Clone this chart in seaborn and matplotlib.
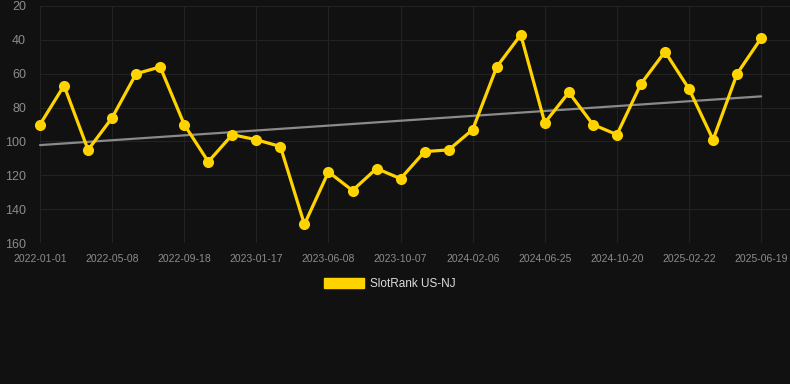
import numpy as np
import pandas as pd
import matplotlib.pyplot as plt
import seaborn as sns
from matplotlib.patches import Patch

# dates on the category axis (every 3rd one is labelled)
dates = ["2022-01-01", "2022-02-12", "2022-03-26", "2022-05-08", "2022-06-21",
         "2022-08-04", "2022-09-18", "2022-10-29", "2022-12-08", "2023-01-17",
         "2023-03-01", "2023-04-24", "2023-06-08", "2023-07-21", "2023-08-29",
         "2023-10-07", "2023-11-19", "2023-12-28", "2024-02-06", "2024-03-19",
         "2024-05-06", "2024-06-25", "2024-08-08", "2024-09-14", "2024-10-20",
         "2024-12-03", "2025-01-12", "2025-02-22", "2025-04-04", "2025-05-12",
         "2025-06-19"]
rank = [90, 67, 105, 86, 60, 56, 90, 112, 96, 99,
        103, 149, 118, 129, 116, 122, 106, 105, 93, 56,
        37, 89, 71, 90, 96, 66, 47, 69, 99, 60, 39]
series_name = "SlotRank US-NJ"
y_ticks = [20, 40, 60, 80, 100, 120, 140, 160]

df = pd.DataFrame({"idx": np.arange(len(dates)), "rank": rank, "date": dates})

bg = "#111111"
grid = "#222222"
gold = "#FFD300"

sns.set_theme(style="dark", rc={
    "figure.facecolor": bg,
    "axes.facecolor": bg,
    "axes.edgecolor": bg,
    "grid.color": grid,
    "axes.grid": True,
})
plt.rcParams["font.family"] = ["Liberation Sans", "DejaVu Sans"]

fig = plt.figure(figsize=(7.9, 3.84), dpi=100)
ax = fig.add_axes([40 / 790, 1 - 243 / 384, 750 / 790, 237 / 384])

# trend line (linear fit) behind the series
sns.regplot(data=df, x="idx", y="rank", scatter=False, ci=None, ax=ax,
            line_kws=dict(color="#8a8a8a", lw=1.6, zorder=2))

sns.lineplot(data=df, x="idx", y="rank", ax=ax, color=gold, lw=2.3,
             marker="o", markersize=8, markeredgewidth=0, zorder=3)
for ln in ax.lines:
    ln.set_clip_on(False)

ax.set_xlim(0, 31.2)
ax.set_ylim(160, 20)
ax.set_yticks(y_ticks)
ax.set_xticks(df["idx"][::3])
ax.set_xticklabels(df["date"][::3])
ax.grid(True, color=grid, lw=0.8)
ax.set_axisbelow(True)
ax.tick_params(axis="x", colors=grid, length=5, width=0.8, pad=3,
               labelcolor="#8c8c8c", labelsize=7.5)
ax.tick_params(axis="y", length=0, pad=10, labelcolor="#8c8c8c", labelsize=9)
ax.set_xlabel("")
ax.set_ylabel("")
for s in ax.spines.values():
    s.set_visible(False)

handle = Patch(facecolor=gold, edgecolor=gold)
fig.legend([handle], [series_name], loc="center",
           bbox_to_anchor=(390 / 790, 1 - 284 / 384), frameon=False,
           fontsize=8.5, labelcolor="#dddddd", handlelength=3.4,
           handleheight=0.85, handletextpad=0.5)

plt.savefig("out.png", dpi=100, facecolor=bg)
